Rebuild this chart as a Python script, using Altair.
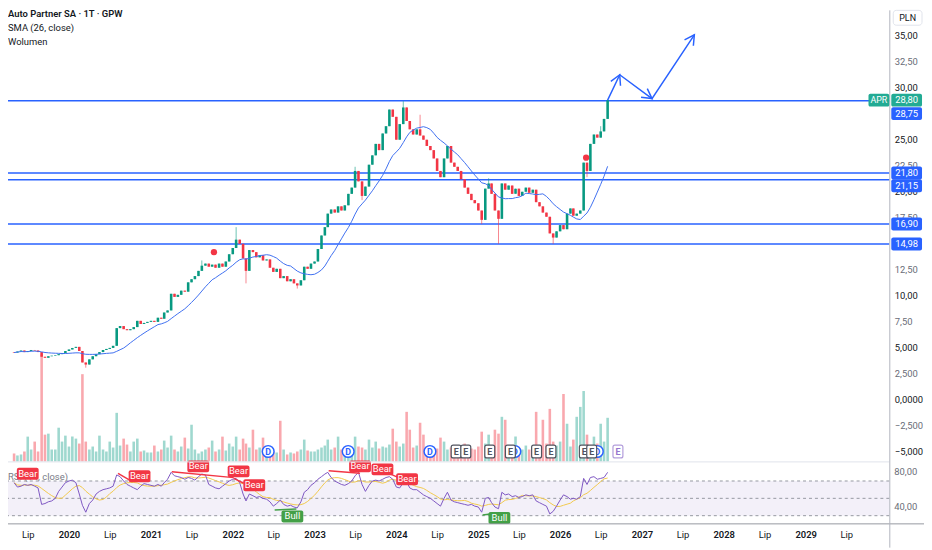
import altair as alt
import pandas as pd

# ---------------- candle data (semi-monthly: 1st and 16th of each month) ----------------
close_2019 = [4.55, 4.65, 4.75, 4.6, 4.7, 4.8, 4.75, 4.6, 4.15, 4.05, 4.2, 4.25, 4.3, 4.4, 4.5, 4.7]
close_2020 = [4.85, 5.0, 5.1, 4.7, 3.6, 3.4, 3.9, 4.2, 4.4, 4.6, 4.8, 4.9, 5.0, 5.2, 6.9, 7.1, 6.8, 6.7, 6.8, 7.0, 7.6, 7.3, 7.4, 7.5]
close_2021 = [7.6, 7.5, 7.9, 7.8, 8.4, 8.6, 10.2, 9.9, 10.1, 10.5, 10.4, 11.3, 11.6, 11.9, 12.4, 12.9, 13.1, 12.8, 13.0, 12.7, 13.1, 12.8, 13.3, 14.0]
close_2022 = [14.6, 15.4, 15.0, 13.6, 12.4, 14.4, 14.2, 13.7, 13.9, 13.4, 13.5, 12.7, 12.3, 12.6, 11.7, 11.9, 11.4, 11.6, 11.2, 11.0, 11.5, 12.8, 12.6, 13.1]
close_2023 = [13.3, 14.5, 15.8, 16.6, 17.9, 18.3, 18.0, 18.6, 18.2, 18.7, 19.8, 20.4, 22.0, 21.0, 19.6, 20.5, 22.6, 23.5, 24.6, 24.0, 25.6, 26.3, 27.9, 27.2]
close_2024 = [25.0, 26.5, 28.1, 26.8, 26.0, 25.5, 26.0, 25.4, 25.0, 24.4, 24.0, 23.2, 22.0, 21.4, 23.2, 24.4, 22.8, 22.4, 22.0, 21.2, 20.4, 19.8, 19.2, 18.9]
close_2025 = [18.2, 17.3, 20.3, 20.8, 19.8, 18.2, 17.4, 20.8, 20.2, 20.6, 19.8, 20.3, 19.6, 20.0, 20.4, 19.9, 20.2, 19.0, 18.6, 18.0, 17.6, 16.0, 15.6, 16.2]
close_2026 = [16.8, 16.4, 17.9, 18.4, 17.7, 17.9, 18.2, 22.8, 22.0, 24.6, 25.5, 25.2, 25.8, 27.0, 28.8]
first_open = 4.6

# long wicks that stand out in the picture
notable_highs = {"2022-01-16": 16.6, "2024-02-01": 28.7, "2024-04-16": 27.4, "2021-08-16": 13.4,
                 "2023-07-01": 22.4, "2025-02-16": 21.3, "2026-07-01": 26.3}
notable_lows = {"2020-03-16": 3.1, "2022-03-01": 11.2, "2022-10-16": 10.7, "2025-01-16": 16.9,
                "2025-04-01": 15.0, "2025-12-01": 15.0, "2023-08-01": 19.2, "2026-05-01": 21.4}

# volume (thousands, semi-monthly)
vol_2019 = [8, 6, 7, 10, 25, 12, 20, 10, 108, 27, 28, 12, 12, 34, 20, 26]
vol_2020 = [15, 25, 23, 18, 88, 20, 12, 15, 10, 26, 12, 10, 20, 14, 49, 16, 23, 17, 10, 20, 23, 10, 11, 9]
vol_2021 = [9, 16, 10, 12, 21, 14, 26, 12, 10, 15, 24, 13, 37, 12, 8, 10, 12, 14, 21, 10, 12, 25, 11, 18]
vol_2022 = [15, 25, 12, 23, 18, 14, 32, 12, 14, 24, 10, 12, 10, 9, 41, 12, 7, 9, 8, 10, 12, 22, 11, 10]
vol_2023 = [10, 12, 14, 16, 22, 12, 14, 25, 12, 10, 13, 12, 25, 15, 14, 12, 22, 14, 20, 13, 15, 14, 17, 33]
vol_2024 = [20, 15, 18, 50, 32, 14, 16, 39, 27, 12, 14, 10, 13, 24, 20, 12, 14, 10, 11, 12, 18, 10, 13, 12]
vol_2025 = [15, 30, 18, 27, 14, 32, 28, 45, 42, 15, 13, 25, 14, 12, 16, 12, 15, 50, 14, 42, 18, 53, 20, 16]
vol_2026 = [20, 68, 38, 15, 22, 45, 55, 71, 27, 16, 25, 18, 38, 20, 44]

# RSI (14, close)
rsi_2019 = [68, 63, 64, 66, 65, 66, 64, 62, 43, 44, 46, 47, 50, 58, 63, 68]
rsi_2020 = [70, 71, 68, 55, 42, 34, 44, 48, 55, 58, 60, 61, 62, 64, 77, 75, 70, 66, 64, 62, 60, 64, 67, 66]
rsi_2021 = [65, 64, 66, 64, 68, 72, 80, 76, 75, 74, 72, 74, 73, 71, 75, 78, 77, 66, 64, 62, 61, 64, 67, 70]
rsi_2022 = [72, 73, 68, 55, 47, 55, 53, 51, 52, 50, 49, 46, 41, 44, 48, 43, 41, 42, 40, 39, 46, 57, 60, 65]
rsi_2023 = [68, 72, 75, 78, 80, 74, 70, 68, 66, 65, 67, 70, 76, 80, 66, 58, 65, 70, 71, 70, 72, 74, 75, 72]
rsi_2024 = [63, 62, 68, 69, 62, 60, 60, 57, 54, 52, 50, 47, 44, 41, 50, 57, 48, 46, 45, 44, 43, 42, 43, 41]
rsi_2025 = [40, 34, 50, 51, 45, 40, 38, 57, 54, 55, 52, 53, 51, 52, 54, 53, 54, 47, 45, 43, 41, 32, 35, 41]
rsi_2026 = [48, 54, 52, 49, 50, 49, 52, 73, 66, 74, 75, 72, 73, 74, 80]

# horizontal levels and price tags
level_prices = [28.75, 21.80, 21.15, 16.90, 14.98]
last_price = 28.80

# signal dots
dot_dates = ["2021-10-09", "2026-04-27"]
dot_prices = [14.2, 23.27]

# forecast arrow path
arrow_dates = ["2026-08-01", "2026-09-24", "2027-02-15", "2027-08-23"]
arrow_prices = [28.8, 31.24, 28.95, 35.08]

# events
div_dates = ["2022-06-08", "2023-05-31", "2024-05-30", "2025-06-13", "2026-06-16"]
earn_dates = ["2024-09-24", "2024-11-06", "2025-02-21", "2025-05-24", "2025-09-18", "2025-11-21",
              "2026-04-19", "2026-05-22"]
future_earn_dates = ["2026-09-16"]

# RSI divergence labels
sig_kind = ["Bear", "Bear", "Bear", "Bear", "Bear", "Bull", "Bear", "Bear", "Bear", "Bull"]
sig_dates = ["2019-07-01", "2020-11-11", "2021-07-31", "2022-01-27", "2022-04-07", "2022-09-24",
             "2023-07-23", "2023-10-31", "2024-02-18", "2025-04-05"]
sig_rsi = [78.3, 75.4, 86.9, 81.1, 65.1, 29.1, 86.9, 83.4, 72.0, 27.4]
# divergence lines (start/end)
dl_kind = ["Bear", "Bear", "Bear", "Bull", "Bear", "Bear", "Bull"]
dl_d1 = ["2020-08-07", "2021-04-04", "2022-01-05", "2022-07-07", "2023-03-05", "2023-11-09", "2025-01-20"]
dl_r1 = [78.9, 80.8, 73.1, 36.6, 81.9, 81.1, 30.9]
dl_d2 = ["2020-09-28", "2022-01-05", "2022-02-19", "2022-10-12", "2023-07-23", "2024-01-18", "2025-02-24"]
dl_r2 = [70.9, 73.9, 67.4, 37.7, 78.9, 73.1, 32.0]

price_ticks = [35, 32.5, 30, 25, 22.5, 20, 17.5, 12.5, 10, 7.5, 5, 2.5, 0, -2.5, -5]
price_tick_labels = ["35,00", "32,50", "30,00", "25,00", "22,50", "20,00", "17,50",
                     "12,50", "10,00", "7,50", "5,000", "2,500", "0,0000", "\u22122,500", "\u22125,000"]

# ---------------- build tables ----------------
dates = []
for y in range(2019, 2027):
    for m in range(1, 13):
        for d in (1, 16):
            if (y, m) < (2019, 5) or (y, m, d) > (2026, 8, 1):
                continue
            dates.append(f"{y}-{m:02d}-{d:02d}")

closes = close_2019 + close_2020 + close_2021 + close_2022 + close_2023 + close_2024 + close_2025 + close_2026
vols = vol_2019 + vol_2020 + vol_2021 + vol_2022 + vol_2023 + vol_2024 + vol_2025 + vol_2026
rsis = rsi_2019 + rsi_2020 + rsi_2021 + rsi_2022 + rsi_2023 + rsi_2024 + rsi_2025 + rsi_2026
assert len(dates) == len(closes) == len(vols) == len(rsis), (len(dates), len(closes), len(vols), len(rsis))

opens = [first_open] + closes[:-1]
highs = [max(o, c) for o, c in zip(opens, closes)]
lows = [min(o, c) for o, c in zip(opens, closes)]
for i, d in enumerate(dates):
    if d in notable_highs:
        highs[i] = max(highs[i], notable_highs[d])
    if d in notable_lows:
        lows[i] = min(lows[i], notable_lows[d])

df = pd.DataFrame({"date": dates, "open": opens, "close": closes, "high": highs, "low": lows,
                   "vol": vols, "rsi": rsis})
df["dir"] = ["up" if c >= o else "down" for o, c in zip(opens, closes)]
df["sma"] = df["close"].rolling(13, min_periods=1).mean()      # 26 weeks
df["rsi_ma"] = df["rsi"].rolling(7, min_periods=1).mean()      # 14 weeks

# ---------------- scales ----------------
W, H = 889, 517
TEAL, RED, BLUE = "#089981", "#f23645", "#2962ff"
FONT = "Roboto"
FS = 9.5

XSCALE = alt.Scale(type="utc", domain=[alt.DateTime(year=2019, month=4, date=26, utc=True),
                                       alt.DateTime(year=2029, month=12, date=18, utc=True)])
PSCALE = dict(domain=[-5.905, 37.43], range=[455, 0], nice=False, zero=False)
RSCALE = dict(domain=[21.7, 92.6], range=[517, 455], nice=False, zero=False)
VSCALE = dict(domain=[0, 455], range=[455, 0], nice=False, zero=False)

x_ticks = [alt.DateTime(year=y, month=m, date=1, utc=True) for y in range(2019, 2030) for m in (1, 7)
           if not (y == 2019 and m == 1)]
X_AXIS = alt.Axis(values=x_ticks, grid=False, domain=False, ticks=False, labelPadding=7, labelFontSize=FS,
                  labelFont=FONT, labelColor="#131722", labelOverlap=False, labelFlush=False,
                  labelExpr="utcmonth(datum.value) == 6 ? 'Lip' : utcFormat(datum.value, '%Y')",
                  labelFontWeight={"condition": {"test": "utcmonth(datum.value) == 0", "value": 600},
                                   "value": 400})


def X(f="date"):
    return alt.X(f, type="temporal", scale=XSCALE, axis=X_AXIS, title=None)


def Y(f, sc, axis=None):
    return alt.Y(f, type="quantitative", scale=alt.Scale(**sc), axis=axis, title=None)


one = pd.DataFrame({"a": [0]})
dir_color = alt.Color("dir:N", scale=alt.Scale(domain=["up", "down"], range=[TEAL, RED]), legend=None)
vol_color = alt.Color("dir:N", scale=alt.Scale(domain=["up", "down"], range=["#9fd8cf", "#f9a8ae"]), legend=None)

layers = []

# volume
layers.append(alt.Chart(df).mark_bar(width=2.6).encode(
    x=X(), y=Y("vol", VSCALE), y2=alt.datum(0), color=vol_color))

# price axis
lab_expr = "''"
for v, l in reversed(list(zip(price_ticks, price_tick_labels))):
    lab_expr = f"datum.value == {v} ? '{l}' : ({lab_expr})"
price_axis = alt.Axis(orient="right", values=price_ticks, labelExpr=lab_expr, grid=False, domain=False,
                      ticks=False, labelPadding=5, labelFontSize=FS, labelFont=FONT, labelOverlap=False,
                      labelFlush=False,
                      labelColor={"condition": {"test": "datum.value % 5 == 0", "value": "#131722"},
                                  "value": "#6a6d78"})

# horizontal levels
lev = pd.DataFrame({"p": level_prices})
layers.append(alt.Chart(lev).mark_rule(color=BLUE, strokeWidth=1.6).encode(y=Y("p", PSCALE)))

# wicks and bodies
layers.append(alt.Chart(df).mark_rule(strokeWidth=1, opacity=0.6).encode(
    x=X(), y=Y("low", PSCALE), y2="high", color=dir_color))
layers.append(alt.Chart(df).mark_bar(width=2.6).encode(
    x=X(), y=Y("open", PSCALE, axis=price_axis), y2="close", color=dir_color))

# SMA
layers.append(alt.Chart(df).mark_line(color="#3f6ff0", strokeWidth=1).encode(x=X(), y=Y("sma", PSCALE)))

# signal dots
dots = pd.DataFrame({"date": dot_dates, "p": dot_prices})
layers.append(alt.Chart(dots).mark_point(shape="circle", filled=True, color=RED, size=40, opacity=1).encode(
    x=X(), y=Y("p", PSCALE)))

# forecast arrows
arr = pd.DataFrame({"date": arrow_dates, "p": arrow_prices})
layers.append(alt.Chart(arr).mark_line(color=BLUE, strokeWidth=1.5).encode(x=X(), y=Y("p", PSCALE)))
arrow_angles = [24.8, 126.0, 33.9]
heads = pd.DataFrame({"date": arrow_dates[1:], "p": arrow_prices[1:], "ang": arrow_angles})
layers.append(alt.Chart(heads).mark_point(shape="M-0.55,1L0,0L0.55,1", filled=False, stroke=BLUE,
                                          strokeWidth=1.5, size=380, opacity=1).encode(
    x=X(), y=Y("p", PSCALE), angle=alt.Angle("ang:Q", scale=None)))

# event markers
dd = pd.DataFrame({"date": div_dates, "t": ["D"] * len(div_dates)})
layers.append(alt.Chart(dd).mark_point(shape="circle", filled=True, fill="white", stroke=BLUE,
                                       strokeWidth=1.5, size=140, opacity=1).encode(x=X(), y=alt.value(445)))
layers.append(alt.Chart(dd).mark_text(color=BLUE, fontSize=9, fontWeight="bold", font=FONT).encode(
    x=X(), y=alt.value(445.5), text="t"))
ee = pd.DataFrame({"date": earn_dates, "t": ["E"] * len(earn_dates)})
layers.append(alt.Chart(ee).mark_rect(fill="white", stroke="#50535e", strokeWidth=1.2, cornerRadius=2,
                                      xOffset=-5, x2Offset=5).encode(
    x=X(), x2="date", y=alt.value(438.5), y2=alt.value(451.5)))
layers.append(alt.Chart(ee).mark_text(color="#50535e", fontSize=9, fontWeight="bold", font=FONT).encode(
    x=X(), y=alt.value(445.5), text="t"))
fe = pd.DataFrame({"date": future_earn_dates, "t": ["E"]})
layers.append(alt.Chart(fe).mark_rect(fill="white", stroke="#b39ddb", strokeWidth=1.2, cornerRadius=2,
                                      xOffset=-5, x2Offset=5).encode(
    x=X(), x2="date", y=alt.value(438.5), y2=alt.value(451.5)))
layers.append(alt.Chart(fe).mark_text(color="#9575cd", fontSize=9, fontWeight="bold", font=FONT).encode(
    x=X(), y=alt.value(445.5), text="t"))

# ---------------- RSI pane ----------------
band = pd.DataFrame({"hi": [70], "lo": [30]})
layers.append(alt.Chart(band).mark_rect(color="#7e57c2", opacity=0.09).encode(
    x=alt.value(0), x2=alt.value(W), y=Y("hi", RSCALE), y2="lo"))
guides = pd.DataFrame({"r": [70, 50, 30]})
layers.append(alt.Chart(guides).mark_rule(color="#9598a1", strokeDash=[3, 3], strokeWidth=1).encode(
    y=Y("r", RSCALE)))
layers.append(alt.Chart(df).mark_line(color="#f2c94c", strokeWidth=1).encode(x=X(), y=Y("rsi_ma", RSCALE)))
layers.append(alt.Chart(df).mark_line(color="#7e57c2", strokeWidth=1).encode(x=X(), y=Y("rsi", RSCALE)))
layers.append(alt.Chart(pd.DataFrame({"t": ["RSI (14, close)"]})).mark_text(
    align="left", baseline="middle", fontSize=FS, font=FONT, color="#787b86").encode(
    x=alt.value(0), y=alt.value(471), text="t"))

sig_color = alt.Color("kind:N", scale=alt.Scale(domain=["Bear", "Bull"], range=[RED, "#43a047"]), legend=None)
rows = []
for n, (k, d1, r1, d2, r2) in enumerate(zip(dl_kind, dl_d1, dl_r1, dl_d2, dl_r2)):
    rows.append({"kind": k, "seg": n, "date": d1, "r": r1})
    rows.append({"kind": k, "seg": n, "date": d2, "r": r2})
dl = pd.DataFrame(rows)
layers.append(alt.Chart(dl).mark_line(strokeWidth=1.5).encode(
    x=X(), y=Y("r", RSCALE), color=sig_color, detail="seg:N"))
sg = pd.DataFrame({"kind": sig_kind, "date": sig_dates, "r": sig_rsi})
layers.append(alt.Chart(sg).mark_rect(cornerRadius=2, xOffset=-11, x2Offset=11, yOffset=-6, y2Offset=6).encode(
    x=X(), x2="date", y=Y("r", RSCALE), y2="r", color=sig_color))
layers.append(alt.Chart(sg).mark_text(color="white", fontSize=9.5, font=FONT, baseline="middle").encode(
    x=X(), y=Y("r", RSCALE), text="kind"))

# RSI axis labels
rl = pd.DataFrame({"r": [80, 40], "t": ["80,00", "40,00"]})
layers.append(alt.Chart(rl).mark_text(align="left", baseline="middle", fontSize=FS, font=FONT,
                                      color="#6a6d78").encode(x=alt.value(W + 5), y=Y("r", RSCALE), text="t"))

# ---------------- frame ----------------
layers.append(alt.Chart(one).mark_rule(color="#e0e3eb", strokeWidth=1).encode(
    x=alt.value(0), x2=alt.value(W), y=alt.value(455.5)))
layers.append(alt.Chart(one).mark_rule(color="#9598a1", strokeWidth=1).encode(
    x=alt.value(0), x2=alt.value(W + 35), y=alt.value(518)))
layers.append(alt.Chart(one).mark_rule(color="#b2b5be", strokeWidth=1).encode(
    x=alt.value(W + 0.5), y=alt.value(0), y2=alt.value(H + 25)))


# price tags
def tag_layers(prices, fill, shift):
    d = pd.DataFrame({"p": prices, "lab": [f"{p:.2f}".replace(".", ",") for p in prices]})
    rect = alt.Chart(d).mark_rect(fill=fill, cornerRadius=2, yOffset=shift - 6.5, y2Offset=shift + 6.5).encode(
        x=alt.value(W + 2), x2=alt.value(W + 33), y=Y("p", PSCALE), y2="p")
    txt = alt.Chart(d).mark_text(color="white", fontSize=FS, font=FONT, align="center", baseline="middle",
                                 yOffset=shift).encode(x=alt.value(W + 17.5), y=Y("p", PSCALE), text="lab")
    return [rect, txt]


layers += tag_layers([level_prices[0]], BLUE, 13)
layers += tag_layers([level_prices[1], level_prices[3], level_prices[4]], BLUE, 0)
layers += tag_layers([level_prices[2]], BLUE, 6)
layers += tag_layers([last_price], "#22ab94", 0)
apr = pd.DataFrame({"p": [last_price], "t": ["APR"]})
layers.append(alt.Chart(apr).mark_rect(fill="#22ab94", cornerRadius=2, yOffset=-6.5, y2Offset=6.5).encode(
    x=alt.value(W - 21), x2=alt.value(W), y=Y("p", PSCALE), y2="p"))
layers.append(alt.Chart(apr).mark_text(color="white", fontSize=9, font=FONT, baseline="middle").encode(
    x=alt.value(W - 10.5), y=Y("p", PSCALE), text="t"))

# PLN box
layers.append(alt.Chart(one).mark_rect(fill="white", stroke="#e0e3eb", cornerRadius=3).encode(
    x=alt.value(W + 4), x2=alt.value(W + 33), y=alt.value(0), y2=alt.value(15)))
layers.append(alt.Chart(pd.DataFrame({"t": ["PLN"]})).mark_text(fontSize=9, font=FONT, color="#131722",
                                                                 baseline="middle").encode(
    x=alt.value(W + 18.5), y=alt.value(7.5), text="t"))

# header texts
layers.append(alt.Chart(pd.DataFrame({"t": ["Auto Partner SA \u00b7 1T \u00b7 GPW"]})).mark_text(
    align="left", baseline="middle", fontSize=9.5, font=FONT, fontWeight=600, color="#131722").encode(
    x=alt.value(0), y=alt.value(4), text="t"))
layers.append(alt.Chart(pd.DataFrame({"t": ["SMA (26, close)"]})).mark_text(
    align="left", baseline="middle", fontSize=9.5, font=FONT, color="#131722").encode(
    x=alt.value(0), y=alt.value(18), text="t"))
layers.append(alt.Chart(pd.DataFrame({"t": ["Wolumen"]})).mark_text(
    align="left", baseline="middle", fontSize=9.5, font=FONT, color="#131722").encode(
    x=alt.value(0), y=alt.value(32), text="t"))

chart = alt.layer(*layers).resolve_scale(y="independent", color="independent").properties(
    width=W, height=H, autosize=alt.AutoSizeParams(type="none"),
    padding={"left": 0, "top": 0, "right": 35, "bottom": 25},
    background="white",
).configure_view(stroke=None)

chart.save("out.html", embed_options={"renderer": "svg", "actions": False})
